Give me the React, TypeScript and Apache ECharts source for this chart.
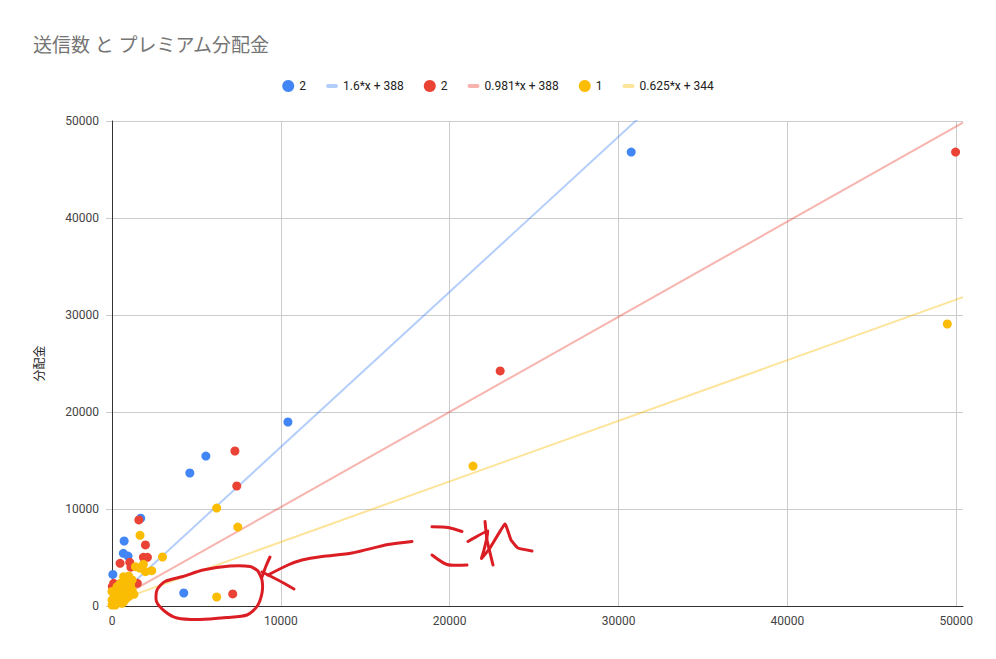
import React, { useEffect, useRef } from "react";
import * as echarts from "echarts";

// 送信数 (x) と プレミアム分配金 (y)
const bluePoints: number[][] = [
  [30750, 46800], [10420, 18970], [5560, 15460], [4610, 13710], [4250, 1340],
  [1700, 9050], [720, 6700], [670, 5430], [950, 5150], [50, 3250],
];
const redPoints: number[][] = [
  [49960, 46800], [22990, 24230], [7280, 15980], [7390, 12370], [7150, 1240],
  [1590, 8870], [1980, 6300], [1860, 5020], [2100, 5020], [480, 4400],
  [1050, 4500], [1120, 4000], [1500, 2340], [100, 2340], [20, 2000],
];
const yellowPoints: number[][] = [
  [49470, 29070], [21380, 14430], [6200, 10100], [7450, 8140], [6200, 930],
  [2990, 5050], [2350, 3640], [1660, 7290], [1860, 4300], [1650, 3900],
  [1390, 4050], [1980, 3540], [690, 3020], [990, 3090], [1190, 2680],
  [500, 2340], [890, 1990], [1190, 1650], [100, 1310], [500, 1130],
  [990, 960], [0, 620], [300, 440], [690, 440], [0, 100], [200, 100],
  [590, 280], [300, 2000], [700, 1500], [250, 1700], [800, 2500],
  [1100, 2200], [400, 800], [800, 700], [150, 300], [0, 1500], [1300, 1200],
];

const seriesNames = ["2", "2\u200b", "1"];
const trendNames = ["1.6*x + 388", "0.981*x + 388", "0.625*x + 344"];
const trendSlopes = [1.6, 0.981, 0.625];
const trendIntercepts = [388, 388, 344];
const trendXs = [0, 50400];

const pointColors = ["#4285F4", "#EA4335", "#FBBC04"];
const trendColors = ["rgba(66,133,244,0.4)", "rgba(234,67,53,0.4)", "rgba(251,188,4,0.4)"];

const xTicks = { min: 0, max: 50400, interval: 10000 };
const yTicks = { min: 0, max: 50000, interval: 10000 };

const RED = "#db1d24";
const stroke = (points: number[][], smooth = 0.25) => ({
  type: "polyline",
  silent: true,
  shape: { points, smooth },
  style: { stroke: RED, lineWidth: 3, fill: null, lineCap: "round", lineJoin: "round" },
  z: 100,
});

export default function App() {
  const ref = useRef<HTMLDivElement>(null);
  useEffect(() => {
    document.body.style.margin = "0";
    const chart = echarts.init(ref.current!, null, { renderer: "svg" });
    const font = "Roboto, 'Noto Sans CJK JP', sans-serif";
    const allPoints = [bluePoints, redPoints, yellowPoints];
    const lineIcon = "path://M2,0h8a2,2 0 0 1 0,4h-8a2,2 0 0 1 0,-4z";
    const legendData: any[] = [];
    seriesNames.forEach((n, i) => {
      legendData.push({ name: n, icon: "circle", itemStyle: { color: pointColors[i] } });
      legendData.push({ name: trendNames[i], icon: lineIcon, itemStyle: { color: trendColors[i] } });
    });
    const series: any[] = [];
    trendNames.forEach((n, i) => {
      series.push({
        name: n,
        type: "line",
        z: 1,
        symbol: "none",
        clip: true,
        color: trendColors[i],
        lineStyle: { width: 2, color: trendColors[i] },
        data: trendXs.map((x) => [x, trendSlopes[i] * x + trendIntercepts[i]]),
      });
    });
    seriesNames.forEach((n, i) => {
      series.push({
        name: n,
        type: "scatter",
        z: 3,
        symbolSize: 9,
        itemStyle: { color: pointColors[i], opacity: 1 },
        data: allPoints[i],
      });
    });
    chart.setOption({
      animation: false,
      textStyle: { fontFamily: font },
      title: {
        text: "送信数 と プレミアム分配金",
        left: 33,
        top: 36,
        padding: 0,
        textStyle: { fontSize: 19, fontWeight: "normal", color: "#757575", fontFamily: font, lineHeight: 19 },
      },
      legend: {
        top: 75,
        left: "center",
        itemWidth: 12,
        itemHeight: 12,
        itemGap: 20,
        symbolKeepAspect: true,
        selectedMode: false,
        formatter: (name: string) => name.replace(/\u200b/g, ""),
        textStyle: { fontSize: 12, color: "#222222", fontFamily: font },
        data: legendData,
      },
      grid: { left: 112, right: 33, top: 121, bottom: 53, containLabel: false },
      xAxis: {
        type: "value",
        min: xTicks.min,
        max: xTicks.max,
        interval: xTicks.interval,
        axisLine: { show: true, onZero: false, lineStyle: { color: "#333333", width: 1 } },
        axisTick: { show: false },
        axisLabel: {
          showMaxLabel: false,
          margin: 9,
          fontSize: 12,
          color: "#444444",
          fontFamily: font,
          formatter: (v: number) => (v % xTicks.interval === 0 ? String(v) : ""),
        },
        splitLine: { show: true, showMaxLine: false, lineStyle: { color: "#cccccc", width: 1 } },
      },
      yAxis: {
        type: "value",
        min: yTicks.min,
        max: yTicks.max,
        interval: yTicks.interval,
        name: "分配金",
        nameLocation: "middle",
        nameRotate: 90,
        nameGap: 66,
        nameTextStyle: { fontSize: 12, color: "#222222", fontFamily: font },
        axisLine: { show: true, onZero: false, lineStyle: { color: "#333333", width: 1 } },
        axisTick: { show: true, length: 6, lineStyle: { color: "#cccccc" } },
        axisLabel: {
          margin: 13,
          fontSize: 12,
          color: "#444444",
          fontFamily: font,
          formatter: (v: number) => String(v),
        },
        splitLine: { show: true, lineStyle: { color: "#cccccc", width: 1 } },
      },
      graphic: [
        stroke([
          [258, 571], [250, 566.5], [230, 566], [203, 570], [183, 576.5], [165, 581.5],
          [157, 590], [156.5, 601.5], [165, 611.5], [177, 618], [200, 619.5], [227, 617.5],
          [247, 615], [257, 606.5], [262, 593], [262, 580], [258, 571],
        ]),
        stroke([[270, 557], [266, 566], [262, 577]]),
        stroke([[262, 572], [278, 580], [294, 589]]),
        stroke([
          [412, 541.5], [388, 544.5], [352, 553], [322, 556.5], [302, 560], [288, 565], [268, 575],
        ]),
        stroke([[432, 526.7], [448, 527.5], [462, 531.5]]),
        stroke([[432, 555], [447, 564.5], [467, 565]]),
        stroke([[485, 521.5], [487, 540], [493, 565]], 0.1),
        stroke([
          [468, 541.5], [488, 531], [484, 550], [481.5, 558.5], [490, 548], [505, 524],
          [511, 540], [518, 548], [532, 551],
        ], 0.1),
      ],
      series,
    });
    return () => chart.dispose();
  }, []);
  return <div ref={ref} style={{ width: 996, height: 659 }} />;
}
